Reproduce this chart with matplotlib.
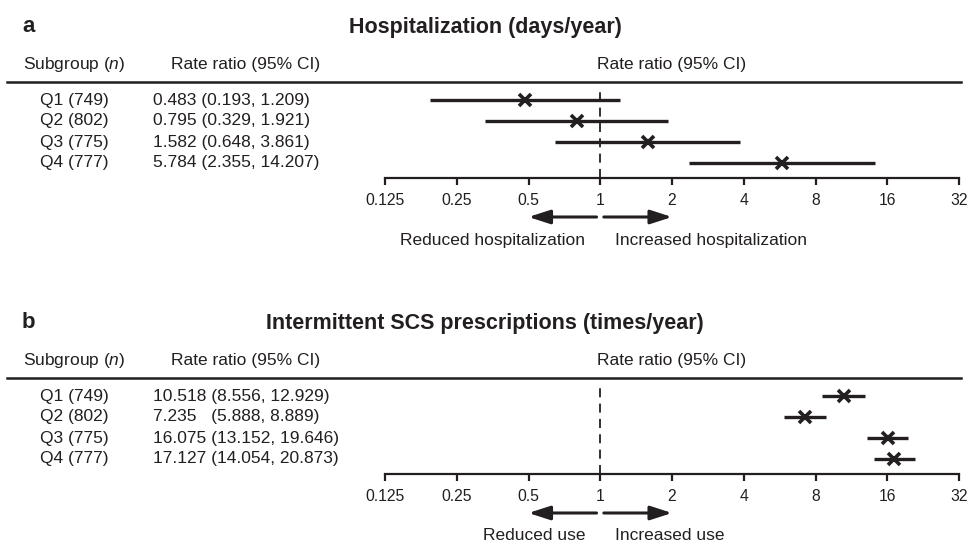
import matplotlib
matplotlib.use("Agg")
import matplotlib.pyplot as plt
from matplotlib.lines import Line2D
from matplotlib import transforms

plt.rcParams['font.family'] = ['Liberation Sans', 'DejaVu Sans']
plt.rcParams['mathtext.fontset'] = 'custom'
plt.rcParams['mathtext.rm'] = 'Liberation Sans'
plt.rcParams['mathtext.it'] = 'Liberation Sans:italic'

INK = '#231f20'

# data
subgroups = ['Q1 (749)', 'Q2 (802)', 'Q3 (775)', 'Q4 (777)']

hosp_rr = [0.483, 0.795, 1.582, 5.784]
hosp_lo = [0.193, 0.329, 0.648, 2.355]
hosp_hi = [1.209, 1.921, 3.861, 14.207]
hosp_txt = ['0.483 (0.193, 1.209)', '0.795 (0.329, 1.921)',
            '1.582 (0.648, 3.861)', '5.784 (2.355, 14.207)']

scs_rr = [10.518, 7.235, 16.075, 17.127]
scs_lo = [8.556, 5.888, 13.152, 14.054]
scs_hi = [12.929, 8.889, 19.646, 20.873]
scs_txt = ['10.518 (8.556, 12.929)', '7.235   (5.888, 8.889)',
           '16.075 (13.152, 19.646)', '17.127 (14.054, 20.873)']

ticks = [0.125, 0.25, 0.5, 1, 2, 4, 8, 16, 32]
tick_labels = ['0.125', '0.25', '0.5', '1', '2', '4', '8', '16', '32']

W, H = 970, 543
fig = plt.figure(figsize=(W / 100, H / 100), dpi=100)


def px(x):
    return x / W


def py(y):
    return 1 - y / H


def panel(off, letter, title, rr, lo, hi, txt, left_lab, right_lab):
    fig.text(px(22), py(27 + off), letter, fontsize=16, fontweight='bold',
             color=INK, va='center', ha='left')
    fig.text(0.5, py(27 + off), title, fontsize=15.5, fontweight='bold',
             color=INK, va='center', ha='center')
    fig.text(px(23), py(65 + off), r'Subgroup ($\mathit{n}$)', fontsize=12.5,
             color=INK, va='center')
    fig.text(px(171), py(65 + off), 'Rate ratio (95% CI)', fontsize=12.5,
             color=INK, va='center')
    fig.text(px(672), py(65 + off), 'Rate ratio (95% CI)', fontsize=12.5,
             color=INK, va='center', ha='center')
    fig.add_artist(Line2D([px(7), px(961)], [py(82 + off)] * 2,
                          transform=fig.transFigure, lw=1.8, color=INK))

    ax = fig.add_axes([px(385), py(178 + off), px(959) - px(385), 90 / H])
    ax.set_xscale('log', base=2)
    ax.set_xlim(0.125, 32)
    ax.set_ylim(3 + 15 / 21, -12 / 21)
    ax.patch.set_alpha(0)
    for s in ['top', 'left', 'right']:
        ax.spines[s].set_visible(False)
    ax.spines['bottom'].set_linewidth(1.6)
    ax.spines['bottom'].set_color(INK)
    ax.set_yticks([])
    ax.set_xticks(ticks)
    ax.set_xticklabels(tick_labels)
    ax.xaxis.set_minor_locator(matplotlib.ticker.NullLocator())
    ax.tick_params(axis='x', direction='out', length=5, width=1.6,
                   color=INK, labelcolor=INK, labelsize=11.3, pad=5.5)

    ax.axvline(1, color=INK, lw=1.3, ls=(0, (5, 3.5)))
    for i in range(len(rr)):
        ax.plot([lo[i], hi[i]], [i, i], color=INK, lw=2.4,
                solid_capstyle='butt')
        ax.plot(rr[i], i, marker='x', ms=9, mew=2.6, color=INK)

    tr = transforms.blended_transform_factory(fig.transFigure, ax.transData)
    for i in range(len(rr)):
        ax.text(px(40), i, subgroups[i], transform=tr, fontsize=12.5,
                color=INK, va='center')
        ax.text(px(153), i, txt[i], transform=tr, fontsize=12.5,
                color=INK, va='center')

    xt = ax.get_xaxis_transform()
    ya = (178 - 217) / 90
    head = '-|>,head_length=1.3,head_width=0.42'
    ax.annotate('', xy=(0.5, ya), xytext=(0.965, ya), xycoords=xt,
                annotation_clip=False,
                arrowprops=dict(arrowstyle=head, lw=2.2, color=INK,
                                shrinkA=0, shrinkB=0))
    ax.annotate('', xy=(2, ya), xytext=(1.035, ya), xycoords=xt,
                annotation_clip=False,
                arrowprops=dict(arrowstyle=head, lw=2.2, color=INK,
                                shrinkA=0, shrinkB=0))
    yt = (178 - 240) / 90
    ax.text(0.865, yt, left_lab, transform=xt, fontsize=12.5, color=INK,
            ha='right', va='center')
    ax.text(1.156, yt, right_lab, transform=xt, fontsize=12.5, color=INK,
            ha='left', va='center')
    return ax


panel(0, 'a', 'Hospitalization (days/year)', hosp_rr, hosp_lo, hosp_hi,
      hosp_txt, 'Reduced hospitalization', 'Increased hospitalization')
panel(296, 'b', 'Intermittent SCS prescriptions (times/year)', scs_rr, scs_lo,
      scs_hi, scs_txt, 'Reduced use', 'Increased use')

fig.savefig('out.png', dpi=100)
